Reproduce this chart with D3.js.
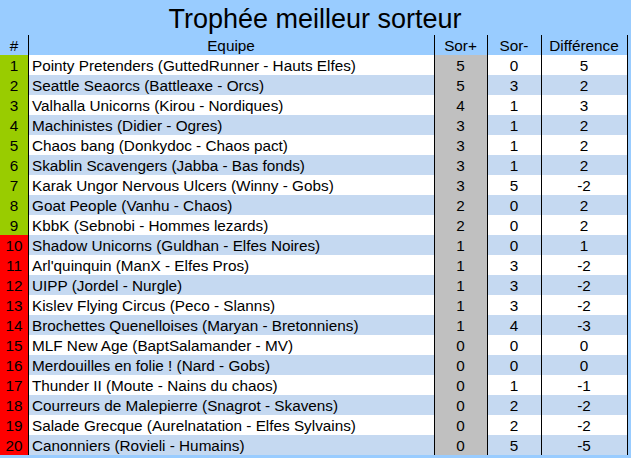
<!DOCTYPE html>
<html><head><meta charset="utf-8">
<script src="https://d3js.org/d3.v7.min.js"></script>
<style>body{margin:0;background:#99ccff}</style></head>
<body><div id="chart"></div>
<script>
const teams = ["Pointy Pretenders (GuttedRunner - Hauts Elfes)","Seattle Seaorcs (Battleaxe - Orcs)","Valhalla Unicorns (Kirou - Nordiques)","Machinistes (Didier - Ogres)","Chaos bang (Donkydoc - Chaos pact)","Skablin Scavengers (Jabba - Bas fonds)","Karak Ungor Nervous Ulcers (Winny - Gobs)","Goat People (Vanhu - Chaos)","KbbK (Sebnobi - Hommes lezards)","Shadow Unicorns (Guldhan - Elfes Noires)","Arl'quinquin (ManX - Elfes Pros)","UIPP (Jordel - Nurgle)","Kislev Flying Circus (Peco - Slanns)","Brochettes Quenelloises (Maryan - Bretonniens)","MLF New Age (BaptSalamander - MV)","Merdouilles en folie ! (Nard - Gobs)","Thunder II (Moute - Nains du chaos)","Courreurs de Malepierre (Snagrot - Skavens)","Salade Grecque (Aurelnatation - Elfes Sylvains)","Canonniers (Rovieli - Humains)"]
const sorPlus = [5,5,4,3,3,3,3,2,2,1,1,1,1,1,0,0,0,0,0,0]
const sorMinus = [0,3,1,1,1,1,5,0,0,0,3,3,3,4,0,0,1,2,2,5]
const diff = [5,2,3,2,2,2,-2,2,2,1,-2,-2,-2,-3,0,0,-1,-2,-2,-5]
const headers = ["#","Equipe","Sor+","Sor-","Différence"]
const title = "Trophée meilleur sorteur"

const W = 631, H = 458
const cols = [0, 28, 434, 487, 541, 627]
const top0 = 55, rh = 20, fs = 15.3
const svg = d3.select('#chart').append('svg').attr('width', W).attr('height', H)
  .style('font-family', 'Arial, "Liberation Sans", sans-serif')
svg.append('rect').attr('width', W).attr('height', H).attr('fill', '#99ccff')

const y = d3.scaleBand().domain(d3.range(teams.length)).range([top0, top0 + rh * teams.length])

svg.append('text').attr('x', 315).attr('y', 28).attr('text-anchor', 'middle')
  .attr('font-size', 27).text(title)
headers.forEach((h, i) => svg.append('text').attr('x', (cols[i] + cols[i + 1]) / 2).attr('y', 51)
  .attr('text-anchor', 'middle').attr('font-size', fs).text(h))

const rows = svg.selectAll('g.row').data(teams).join('g').attr('class', 'row')
  .attr('transform', (d, i) => `translate(0,${y(i)})`)
rows.append('rect').attr('x', cols[1]).attr('width', cols[5] - cols[1]).attr('height', rh)
  .attr('fill', (d, i) => i % 2 ? '#c5d9f1' : '#ffffff')
rows.append('rect').attr('x', 0).attr('width', cols[1]).attr('height', rh)
  .attr('fill', (d, i) => i < 9 ? '#99cc00' : '#ff0000')
rows.append('rect').attr('x', cols[2]).attr('width', cols[3] - cols[2]).attr('height', rh).attr('fill', '#c0c0c0')

const cell = (x, fn, anchor) => rows.append('text').attr('x', x).attr('y', 16)
  .attr('text-anchor', anchor).attr('font-size', fs).text(fn)
cell(14, (d, i) => i + 1, 'middle')
cell(32, d => d, 'start')
cell((cols[2] + cols[3]) / 2, (d, i) => sorPlus[i], 'middle')
cell((cols[3] + cols[4]) / 2, (d, i) => sorMinus[i], 'middle')
cell((cols[4] + cols[5]) / 2, (d, i) => diff[i], 'middle')

svg.selectAll('line.v').data(cols.slice(1)).join('line')
  .attr('x1', d => d + 0.5).attr('x2', d => d + 0.5).attr('y1', 35).attr('y2', top0 + rh * teams.length)
  .attr('stroke', '#000')
</script></body></html>
